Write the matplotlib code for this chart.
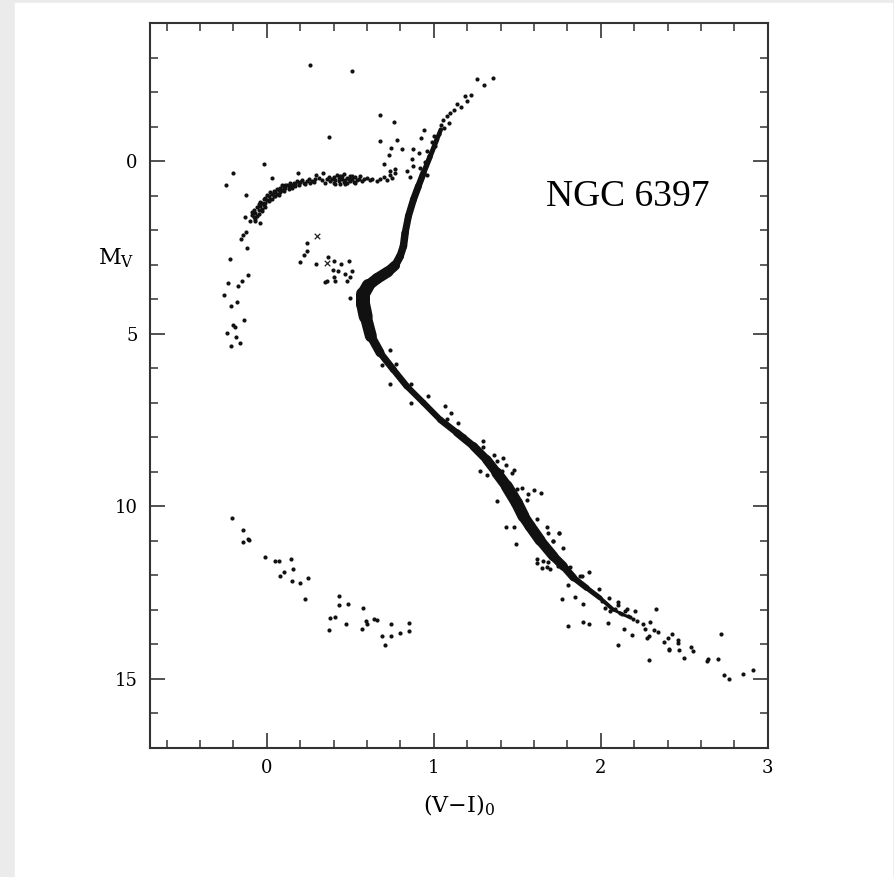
import numpy as np
import matplotlib
matplotlib.use("Agg")
import matplotlib.pyplot as plt
from matplotlib.collections import LineCollection
from matplotlib.patches import Rectangle
from matplotlib.ticker import MultipleLocator

plt.rcParams['font.family'] = ['DejaVu Serif']
plt.rcParams['mathtext.fontset'] = 'dejavuserif'

# ridge line of the dense cluster sequence (RGB -> SGB -> turnoff -> MS)
ridge_vi = [1.042, 1.018, 0.978, 0.938, 0.908, 0.878, 0.848, 0.828, 0.818, 0.798,
            0.768, 0.726, 0.660, 0.607, 0.577, 0.577, 0.592, 0.623, 0.678, 0.758,
            0.838, 0.938, 1.038, 1.138, 1.237, 1.317, 1.377, 1.437, 1.497, 1.537,
            1.577, 1.637, 1.716, 1.776, 1.836, 1.916, 1.996, 2.075, 2.156]
ridge_mv = [-0.92, -0.63, -0.14, 0.34, 0.72, 1.11, 1.59, 2.08, 2.46, 2.75,
            3.02, 3.20, 3.40, 3.60, 3.86, 4.15, 4.50, 5.07, 5.55, 6.04,
            6.52, 7.00, 7.49, 7.87, 8.26, 8.65, 9.03, 9.42, 9.90, 10.29,
            10.58, 10.99, 11.45, 11.74, 12.07, 12.37, 12.66, 13.00, 13.19]

# giant branch stars above/around the dense part
rgb_vi = [1.257, 1.357, 1.301, 1.223, 1.187, 1.198, 1.138, 1.098, 1.056, 1.16,
          1.12, 1.08, 1.09, 1.04, 1.06, 1.03, 1.00, 0.99, 1.01, 0.96,
          0.97, 0.95, 0.92, 0.96]
rgb_mv = [-2.40, -2.42, -2.20, -1.93, -1.88, -1.74, -1.66, -1.41, -1.21, -1.58,
          -1.50, -1.30, -1.12, -1.05, -0.98, -0.80, -0.72, -0.55, -0.45, -0.30,
          -0.15, 0.02, 0.20, 0.40]

# isolated bright stars / AGB
agb_vi = [0.259, 0.509, 0.375, 0.678, 0.762, 0.678, 0.782, 0.743, 0.808, 0.874,
          0.732, 0.868, 0.912, 0.704, 0.770, 0.738, 0.838, 0.874, 0.858, 0.187,
          0.339, 0.295, 0.944, 0.922]
agb_mv = [-2.80, -2.61, -0.71, -1.35, -1.13, -0.58, -0.63, -0.39, -0.37, -0.37,
          -0.17, -0.08, -0.24, 0.08, 0.22, 0.27, 0.27, 0.14, 0.45, 0.34,
          0.34, 0.39, -0.90, -0.68]

# horizontal branch
hb_vi = [-0.10, -0.09, -0.08, -0.08, -0.07, -0.06, -0.06, -0.05, -0.05, -0.04,
         -0.04, -0.03, -0.03, -0.02, -0.02, -0.01, -0.01, 0.00, 0.00, 0.01,
         0.02, 0.02, 0.03, 0.04, 0.04, 0.05, 0.06, 0.06, 0.07, 0.08,
         0.09, 0.09, 0.10, 0.11, 0.12, 0.13, 0.14, 0.15, 0.16, 0.17,
         0.18, 0.19, 0.20, 0.21, 0.22, 0.24, 0.25, 0.27, 0.29, 0.31,
         0.36, 0.38, 0.40, 0.40, 0.41, 0.42, 0.43, 0.43, 0.44, 0.45,
         0.45, 0.46, 0.46, 0.47, 0.48, 0.48, 0.49, 0.50, 0.50, 0.51,
         0.52, 0.53, 0.54, 0.55, 0.56, 0.58, 0.60, 0.63, 0.66, 0.68,
         0.70, 0.72, 0.74, 0.75, 0.77, 0.62,
         -0.09, -0.07, -0.05, -0.03, -0.01, 0.01, 0.03, 0.05, 0.07, 0.08,
         0.10, 0.11, 0.13, 0.15, 0.17, 0.19, 0.23, 0.26, 0.28, 0.33,
         0.35, 0.37, 0.39, 0.41, 0.44, 0.47, 0.51, 0.53, 0.57, -0.04,
         -0.07]
hb_mv = [1.72, 1.55, 1.62, 1.40, 1.50, 1.33, 1.58, 1.25, 1.42, 1.30,
         1.18, 1.22, 1.38, 1.10, 1.26, 1.05, 1.20, 0.98, 1.12, 1.02,
         0.90, 1.08, 0.95, 0.85, 1.00, 0.88, 0.80, 0.95, 0.84, 0.76,
         0.82, 0.70, 0.74, 0.78, 0.68, 0.72, 0.64, 0.70, 0.62, 0.66,
         0.58, 0.64, 0.60, 0.55, 0.62, 0.58, 0.52, 0.56, 0.50, 0.48,
         0.50, 0.58, 0.45, 0.62, 0.53, 0.40, 0.58, 0.48, 0.65, 0.52,
         0.44, 0.60, 0.38, 0.55, 0.47, 0.62, 0.52, 0.42, 0.58, 0.50,
         0.60, 0.46, 0.55, 0.50, 0.44, 0.52, 0.48, 0.50, 0.58, 0.52,
         0.45, 0.55, 0.40, 0.48, 0.35, 0.55,
         1.48, 1.68, 1.52, 1.45, 1.32, 1.15, 1.10, 1.02, 0.98, 0.90,
         0.86, 0.70, 0.80, 0.76, 0.72, 0.70, 0.66, 0.63, 0.60, 0.55,
         0.62, 0.45, 0.52, 0.66, 0.42, 0.65, 0.44, 0.62, 0.58, 1.79,
         1.74]

# extreme blue stars on the left
ehb_vi = [-0.204, -0.245, -0.02, 0.032, -0.124, -0.13, -0.126, -0.154, -0.142, -0.12,
          -0.22, -0.116, -0.15, -0.234, -0.174, -0.254, -0.176, -0.214, -0.134, -0.20,
          -0.19, -0.236, -0.186, -0.162, -0.214]
ehb_mv = [0.34, 0.70, 0.08, 0.48, 0.99, 1.61, 2.06, 2.25, 2.15, 2.51,
          2.82, 3.29, 3.48, 3.52, 3.62, 3.87, 4.09, 4.19, 4.59, 4.75,
          4.81, 4.99, 5.09, 5.28, 5.35]

# blue stragglers
bss_vi = [0.242, 0.240, 0.225, 0.199, 0.293, 0.369, 0.403, 0.445, 0.491, 0.399,
          0.429, 0.465, 0.509, 0.499, 0.403, 0.481, 0.359, 0.349, 0.411, 0.499]
bss_mv = [2.36, 2.61, 2.71, 2.93, 2.99, 2.78, 2.89, 2.99, 2.90, 3.14,
          3.18, 3.28, 3.17, 3.35, 3.35, 3.46, 3.46, 3.51, 3.47, 3.96]
cross_vi = [0.303, 0.363]
cross_mv = [2.17, 2.94]

# main sequence scatter
ms_vi = [0.738, 0.692, 0.772, 0.738, 0.862, 0.864, 0.968, 1.068, 1.104, 1.078,
         1.147, 1.181, 1.293, 1.247, 1.293, 1.361, 1.417, 1.377, 1.431, 1.481,
         1.467, 1.407, 1.277, 1.317, 1.497, 1.527, 1.602, 1.643, 1.566, 1.560,
         1.377, 1.431, 1.481, 1.617, 1.677, 1.683, 1.750, 1.493, 1.716, 1.776,
         1.617, 1.617, 1.647, 1.683, 1.696, 1.746, 1.806, 1.930, 1.876, 1.752,
         1.713, 1.656, 1.677, 1.756, 1.816, 1.886, 1.802, 1.766, 1.846, 1.896,
         1.992, 2.050, 2.102]
ms_mv = [5.48, 5.91, 5.89, 6.45, 6.45, 7.02, 6.81, 7.08, 7.29, 7.46,
         7.60, 7.97, 8.10, 8.21, 8.29, 8.50, 8.61, 8.70, 8.80, 8.94,
         9.03, 8.97, 8.99, 9.08, 9.50, 9.47, 9.54, 9.63, 9.64, 9.81,
         9.86, 10.59, 10.61, 10.37, 10.61, 10.77, 10.77, 11.10, 11.01, 11.20,
         11.54, 11.64, 11.79, 11.62, 11.83, 11.74, 11.79, 11.90, 12.03, 10.77,
         11.01, 11.59, 11.77, 11.64, 11.77, 12.03, 12.27, 12.70, 12.63, 12.82,
         12.41, 12.66, 12.77]

# faint end of main sequence
lms_vi = [1.806, 1.896, 1.932, 2.042, 2.102, 2.138, 2.186, 2.207, 2.156, 2.129,
          2.175, 2.216, 2.251, 2.295, 2.331, 2.267, 2.319, 2.345, 2.287, 2.279,
          2.289, 2.381, 2.403, 2.429, 2.461, 2.463, 2.407, 2.411, 2.471, 2.539,
          2.555, 2.501, 2.635, 2.643, 2.701, 2.722, 2.738, 2.768, 2.854, 2.914,
          2.006, 2.026, 2.056, 2.086, 2.116, 2.146, 2.165, 2.195, 2.105]
lms_mv = [13.48, 13.36, 13.41, 13.37, 14.03, 13.55, 13.72, 13.05, 12.99, 13.12,
          13.22, 13.33, 13.40, 13.36, 12.99, 13.57, 13.59, 13.64, 13.77, 13.83,
          14.46, 13.94, 13.81, 13.70, 13.87, 13.96, 14.13, 14.18, 14.17, 14.09,
          14.19, 14.39, 14.48, 14.44, 14.43, 13.69, 14.88, 15.01, 14.87, 14.75,
          12.75, 12.94, 13.04, 12.99, 13.09, 13.04, 13.19, 13.28, 12.85]

# white dwarf sequence
wd_vi = [-0.21, -0.144, -0.14, -0.116, -0.11, -0.01, 0.051, 0.075, 0.146, 0.104,
         0.159, 0.08, 0.151, 0.198, 0.247, 0.228, 0.433, 0.435, 0.483, 0.379,
         0.407, 0.375, 0.473, 0.578, 0.595, 0.602, 0.572, 0.643, 0.659, 0.69,
         0.71, 0.743, 0.746, 0.798, 0.854, 0.854]
wd_mv = [10.33, 10.68, 11.03, 10.94, 10.99, 11.46, 11.59, 11.59, 11.52, 11.90,
         11.83, 12.01, 12.16, 12.22, 12.09, 12.68, 12.61, 12.86, 12.84, 13.23,
         13.21, 13.59, 13.41, 12.94, 13.33, 13.41, 13.57, 13.26, 13.31, 13.75,
         14.02, 13.41, 13.77, 13.68, 13.37, 13.63]

# band thickness (pixels) along the ridge, one per segment
band_px = [4.5, 5, 5.5, 6.5, 7, 7, 7, 7.5, 7.5, 8,
           10, 11, 11, 13, 14, 14, 12, 9, 7, 6.5,
           6, 6, 6.5, 7.5, 8.5, 9.5, 11, 12, 12, 11,
           11, 10, 9, 7.5, 6, 5, 4, 3]

fig = plt.figure(figsize=(8.95, 8.77), dpi=100, facecolor='#ebebeb')
fig.patches.append(Rectangle((15 / 895, 0), 877 / 895, 874 / 877,
                             transform=fig.transFigure, color='white', zorder=-10))
ax = fig.add_axes([0.1676, 0.1474, 0.6902, 0.826])

pts = np.column_stack([ridge_vi, ridge_mv])
segs = [pts[i:i + 2] for i in range(len(pts) - 1)]
lc = LineCollection(segs, linewidths=[w * 0.72 for w in band_px], colors='#111111',
                    capstyle='round', joinstyle='round')
ax.add_collection(lc)

dot = dict(s=9, c='#111111', marker='o', linewidths=0)
for vx, vy in [(rgb_vi, rgb_mv), (agb_vi, agb_mv), (hb_vi, hb_mv), (ehb_vi, ehb_mv),
               (bss_vi, bss_mv), (ms_vi, ms_mv), (lms_vi, lms_mv), (wd_vi, wd_mv)]:
    ax.scatter(vx, vy, **dot)
ax.scatter(cross_vi, cross_mv, s=16, c='#222222', marker='x', linewidths=0.9)

ax.text(1.67, 1.30, 'NGC 6397', family='Liberation Serif', fontsize=27,
        ha='left', va='baseline')

ax.set_xlim(-0.7, 3.0)
ax.set_ylim(17, -4)
ax.set_xticks([0, 1, 2, 3])
ax.set_yticks([0, 5, 10, 15])
ax.xaxis.set_minor_locator(MultipleLocator(0.2))
ax.yaxis.set_minor_locator(MultipleLocator(1))
ax.tick_params(which='both', direction='in', top=True, right=True,
               color='#333333', labelsize=13)
ax.tick_params(which='major', length=10.8, width=1.2)
ax.tick_params(which='minor', length=5.5, width=1.1)
ax.tick_params(axis='x', pad=8)
ax.tick_params(axis='y', pad=9)
for sp in ax.spines.values():
    sp.set_linewidth(1.5)
    sp.set_color('#333333')

ax.set_xlabel(r'$\mathrm{(V{-}I)_0}$', fontsize=16)
ax.xaxis.set_label_coords(0.5, -0.062)
ax.set_ylabel(r'$\mathrm{M_V}$', fontsize=16, rotation=0, ha='center', va='center')
ax.yaxis.set_label_coords(-0.054, 0.676)

fig.savefig('out.png', dpi=100, facecolor=fig.get_facecolor())
